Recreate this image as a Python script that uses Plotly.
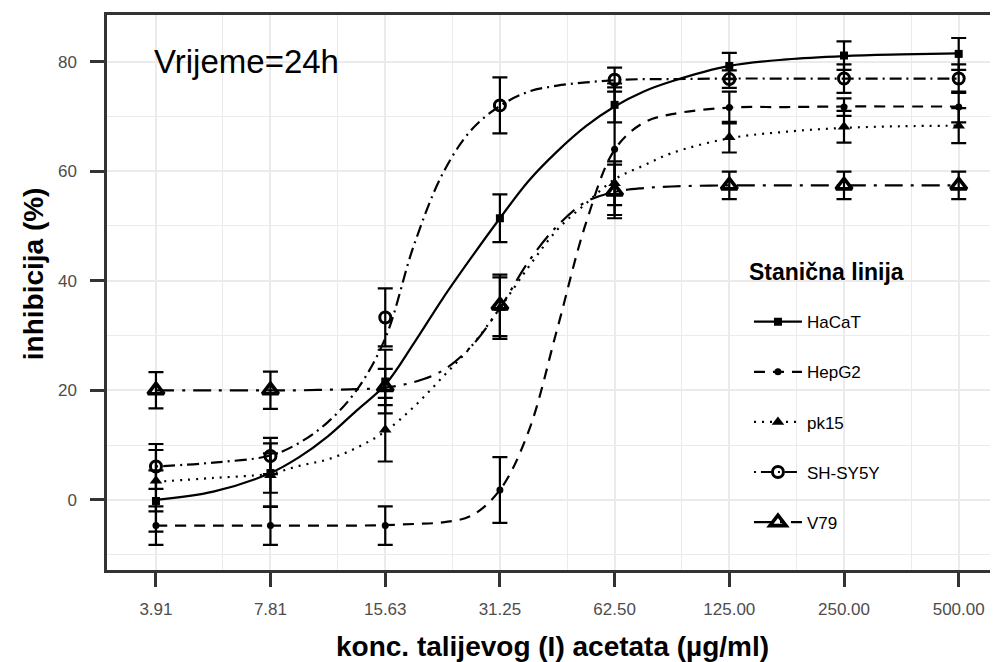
import plotly.graph_objects as go

# ---------------- data ----------------
conc = [3.91, 7.81, 15.63, 31.25, 62.50, 125.00, 250.00, 500.00]
conc_labels = ["3.91", "7.81", "15.63", "31.25", "62.50", "125.00", "250.00", "500.00"]
conc_minor = [5.86, 11.72, 23.44, 46.88, 93.75, 187.5, 375.0]

y_ticks = [0, 20, 40, 60, 80]
y_minor = [-10, 10, 30, 50, 70]

cell_lines = ["HaCaT", "HepG2", "pk15", "SH-SY5Y", "V79"]

hacat_mean = [-0.2, 4.9, 21.6, 51.4, 72.1, 79.2, 81.1, 81.4]
hacat_sd = [5.6, 3.6, 5.8, 4.35, 3.2, 2.4, 2.6, 2.9]
hepg2_mean = [-4.7, -4.7, -4.7, 1.8, 64.0, 71.6, 71.7, 71.7]
hepg2_sd = [3.5, 3.5, 3.5, 6.0, 12.0, 2.9, 1.6, 2.8]
pk15_mean = [3.5, 4.5, 12.8, 35.0, 57.8, 66.2, 68.1, 68.3]
pk15_sd = [5.6, 5.8, 5.8, 5.6, 4.0, 2.8, 2.9, 3.2]
shsy5y_mean = [6.1, 8.0, 33.3, 72.0, 76.7, 76.8, 76.9, 76.9]
shsy5y_sd = [4.1, 3.3, 5.3, 5.1, 2.2, 1.6, 2.6, 2.6]
v79_mean = [20.0, 20.0, 20.6, 35.5, 56.3, 57.4, 57.4, 57.4]
v79_sd = [3.3, 3.4, 3.3, 5.6, 4.9, 2.5, 2.5, 2.5]

# fitted curves at these concentrations
fit_conc = [3.91, 5.53, 7.81, 9.29, 11.05, 13.14, 15.63, 18.59, 22.10, 26.28, 31.25,
            37.16, 44.19, 52.56, 62.50, 74.33, 88.39, 125.0, 176.8, 250.0, 353.6, 500.0]
hacat_fit = [0.0, 1.5, 4.9, 7.8, 11.6, 16.3, 21.0, 28.6, 36.7, 44.2, 51.4,
             58.2, 63.6, 68.2, 71.8, 74.5, 76.4, 79.2, 80.4, 81.0, 81.3, 81.5]
hepg2_fit = [-4.7, -4.7, -4.7, -4.7, -4.7, -4.7, -4.6, -4.4, -4.1, -2.9, 1.8,
             12.5, 31.2, 50.5, 63.9, 68.8, 70.4, 71.6, 71.7, 71.8, 71.8, 71.8]
pk15_fit = [3.3, 4.0, 4.8, 6.2, 7.4, 9.5, 12.5, 17.0, 22.4, 28.0, 35.0,
            42.5, 49.3, 54.1, 58.5, 61.0, 63.3, 66.0, 67.2, 67.9, 68.2, 68.3]
shsy5y_fit = [6.1, 6.8, 8.1, 10.4, 14.2, 20.0, 29.5, 46.5, 59.5, 67.5, 71.9,
              74.5, 75.6, 76.2, 76.6, 76.8, 76.8, 76.9, 76.9, 76.9, 76.9, 76.9]
v79_fit = [20.0, 20.0, 20.0, 20.0, 20.1, 20.2, 20.5, 21.5, 23.6, 28.0, 35.0,
           43.5, 50.0, 54.4, 56.2, 56.9, 57.2, 57.4, 57.4, 57.4, 57.4, 57.4]

means = [hacat_mean, hepg2_mean, pk15_mean, shsy5y_mean, v79_mean]
sds = [hacat_sd, hepg2_sd, pk15_sd, shsy5y_sd, v79_sd]
fits = [hacat_fit, hepg2_fit, pk15_fit, shsy5y_fit, v79_fit]

# ---------------- styles ----------------
dashes = ["solid", "11px,8px", "2px,6px", "2px,5px,12px,5px", "18px,8px,3px,8px"]
symbols = ["square", "circle", "triangle-up", "circle-open", "triangle-up-open"]
msizes = [8, 7, 11, 11, 14]
mlw = [0, 0, 0, 3, 3.6]
INK = "black"
LW = 2.2

fig = go.Figure()

for i, name in enumerate(cell_lines):
    fig.add_trace(go.Scatter(
        x=fit_conc, y=fits[i], mode="lines", legendgroup=name, showlegend=False,
        line=dict(color=INK, width=LW, dash=dashes[i], shape="spline", smoothing=1.0),
        hoverinfo="skip"))
for i, name in enumerate(cell_lines):
    fig.add_trace(go.Scatter(
        x=conc, y=means[i], mode="markers", legendgroup=name, showlegend=False,
        marker=dict(symbol=symbols[i], size=msizes[i], color=INK,
                    line=dict(color=INK, width=mlw[i])),
        error_y=dict(type="data", array=sds[i], visible=True, color=INK,
                     thickness=LW, width=7.5)))
for i, name in enumerate(cell_lines):
    fig.add_trace(go.Scatter(
        x=[None], y=[None], mode="lines+markers", name=name, legendgroup=name,
        line=dict(color=INK, width=LW, dash=dashes[i]),
        marker=dict(symbol=symbols[i], size=msizes[i], color=INK,
                    line=dict(color=INK, width=mlw[i]))))

GRID = "#ebebeb"
AX = "#333333"
FONT = "Liberation Sans, Arial, sans-serif"

# the page body has an 8px default margin; size the figure so it ends at 998x662
fig.update_layout(
    width=990, height=654,
    margin=dict(l=99, r=0, t=7, b=92),
    paper_bgcolor="white", plot_bgcolor="white",
    font=dict(family=FONT, color="black"),
    legend=dict(
        x=0.7205, y=0.479, xanchor="left", yanchor="top",
        bgcolor="rgba(0,0,0,0)",
        font=dict(size=17, color="black"),
        traceorder="grouped", tracegroupgap=25, itemwidth=48,
    ),
    xaxis=dict(
        type="log",
        range=[0.4637, 2.8021],
        tickmode="array", tickvals=conc, ticktext=conc_labels,
        ticks="outside", ticklen=14, tickwidth=2.5, tickcolor=AX,
        tickfont=dict(size=17, color="#4d4d4d"),
        ticklabelstandoff=8,
        showgrid=True, gridcolor=GRID, gridwidth=2,
        minor=dict(tickmode="array", tickvals=conc_minor, showgrid=True,
                   gridcolor=GRID, gridwidth=1.2, ticks=""),
        showline=True, linecolor=AX, linewidth=2.5, mirror=True,
        zeroline=False,
    ),
    yaxis=dict(
        range=[-12.8, 88.5],
        tickmode="array", tickvals=y_ticks,
        ticks="outside", ticklen=14, tickwidth=2.5, tickcolor=AX,
        tickfont=dict(size=17, color="#4d4d4d"),
        ticklabelstandoff=10,
        showgrid=True, gridcolor=GRID, gridwidth=2,
        minor=dict(tickmode="array", tickvals=y_minor, showgrid=True,
                   gridcolor=GRID, gridwidth=1.2, ticks=""),
        showline=True, linecolor=AX, linewidth=2.5, mirror=False,
        zeroline=False,
    ),
    annotations=[
        dict(text="Vrijeme=24h", xref="paper", yref="y", x=0.0505, y=80,
             xanchor="left", yanchor="middle", showarrow=False,
             font=dict(size=33, color="black")),
        dict(text="<b>Stanična linija</b>", xref="paper", yref="paper",
             x=0.808, y=0.537, xanchor="center", yanchor="middle", showarrow=False,
             font=dict(size=23, color="black")),
        dict(text="<b>konc. talijevog (I) acetata (µg/ml)</b>", xref="paper", yref="paper",
             x=0.5, y=-0.138, xanchor="center", yanchor="middle", showarrow=False,
             font=dict(size=28, color="black")),
        dict(text="<b>inhibicija (%)</b>", xref="paper", yref="paper",
             x=-0.083, y=0.533, xanchor="center", yanchor="middle", showarrow=False,
             textangle=-90, font=dict(size=28, color="black")),
    ],
)

fig.write_html("out.html")
